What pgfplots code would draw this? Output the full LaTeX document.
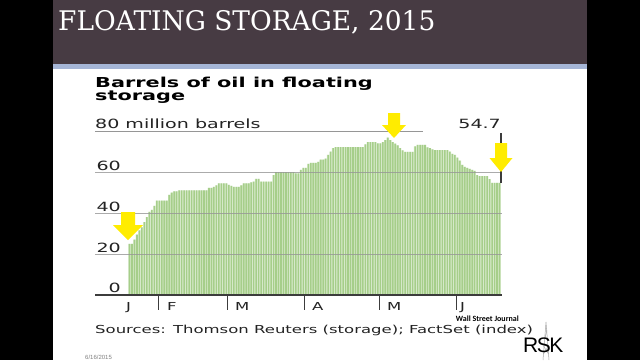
\documentclass[border=0pt]{standalone}
\usepackage{pgfplots}
\pgfplotsset{compat=1.18}
\usepackage{pgfplotstable}
\usepackage{fontspec}
\setmainfont{DejaVu Sans}
\newfontfamily\cf{DejaVu Sans}[FakeStretch=1.5]
\newfontfamily\cfb{DejaVu Sans Bold}[FakeStretch=1.52]
\newfontfamily\tf{DejaVu Serif}[FakeStretch=0.98]
\newfontfamily\wsj{Carlito}
\newfontfamily\rsk{Liberation Sans}
\definecolor{titlecol}{RGB}{71,59,67}
\definecolor{bluestrip}{RGB}{165,181,214}
\definecolor{barfill}{RGB}{166,206,138}
\definecolor{gapc}{RGB}{222,238,212}
\definecolor{gridc}{RGB}{150,150,150}
\definecolor{basec}{RGB}{60,60,60}
\definecolor{txt}{RGB}{35,35,35}
\definecolor{yel}{RGB}{255,236,0}

\pgfplotstableread{
d v
20 25.0
21 25.0
22 27.0
23 29.5
24 31.5
25 33.0
26 35.5
27 38.0
28 40.5
29 41.5
30 43.5
31 46.0
32 46.0
33 46.0
34 46.0
35 46.0
36 48.8
37 50.0
38 50.5
39 50.5
40 51.0
41 51.0
42 51.0
43 51.0
44 51.0
45 51.0
46 51.0
47 51.0
48 51.0
49 51.0
50 51.0
51 51.0
52 52.2
53 52.2
54 52.7
55 53.5
56 54.5
57 54.5
58 54.5
59 54.5
60 53.7
61 53.2
62 52.7
63 52.7
64 52.7
65 53.5
66 54.5
67 54.5
68 54.5
69 55.0
70 55.3
71 56.6
72 56.6
73 55.3
74 55.3
75 55.3
76 55.3
77 55.3
78 58.5
79 60.0
80 60.0
81 60.0
82 60.0
83 60.0
84 60.0
85 60.0
86 60.0
87 59.3
88 59.3
89 61.0
90 62.0
91 62.0
92 64.0
93 64.5
94 64.5
95 64.5
96 65.0
97 66.0
98 66.0
99 66.5
100 68.3
101 70.0
102 71.7
103 72.2
104 72.2
105 72.2
106 72.2
107 72.2
108 72.2
109 72.2
110 72.2
111 72.2
112 72.2
113 72.2
114 72.2
115 73.5
116 74.6
117 74.6
118 74.6
119 74.6
120 74.0
121 74.0
122 74.6
123 75.5
124 76.8
125 75.5
126 74.6
127 73.8
128 73.0
129 71.7
130 70.5
131 69.8
132 69.8
133 69.8
134 69.8
135 72.5
136 73.2
137 73.2
138 73.2
139 73.2
140 72.0
141 71.7
142 71.0
143 70.7
144 70.7
145 70.7
146 70.7
147 70.7
148 70.7
149 70.0
150 68.8
151 68.3
152 67.0
153 65.5
154 63.5
155 62.5
156 62.0
157 61.5
158 61.0
159 60.5
160 58.5
161 58.0
162 58.0
163 58.0
164 58.0
165 56.5
166 54.7
167 54.7
168 54.7
169 54.7
}\oil

\begin{document}
\begin{tikzpicture}
\useasboundingbox (0pt,0pt) rectangle (640pt,360pt);
\clip (0pt,0pt) rectangle (640pt,360pt);
\begin{scope}[x=1pt,y=1pt]
% slide background
\fill[black] (0,0) rectangle (640,360);
\fill[white] (53,0) rectangle (587,292);
\fill[bluestrip] (53,291) rectangle (587,296);
\fill[titlecol] (53,296) rectangle (587,360);
\node[anchor=base west, inner sep=0, text=white, font=\tf\fontsize{27}{30}\selectfont] at (58,330) {FLOATING STORAGE, 2015};
\end{scope}

\begin{axis}[at={(95pt,65pt)}, anchor=south west, scale only axis,
  width=407pt, height=164pt, xmin=6.1, xmax=170, ymin=0, ymax=80,
  axis lines=none, clip=false]
\addplot[ybar, bar width=1.0, fill=gapc, draw=none, forget plot] table[x=d,y=v]{\oil};
\addplot[ybar, bar width=0.64, fill=barfill, draw=none] table[x=d,y=v]{\oil};
\draw[gridc, line width=0.8pt, opacity=0.8] (axis cs:6.1,20) -- (axis cs:170,20);
\draw[gridc, line width=0.8pt, opacity=0.8] (axis cs:6.1,40) -- (axis cs:170,40);
\draw[gridc, line width=0.8pt, opacity=0.8] (axis cs:6.1,60) -- (axis cs:170,60);
\draw[gridc, line width=0.8pt] (axis cs:6.1,80) -- (axis cs:138.2,80);
\draw[basec, line width=1.3pt] (axis cs:6.1,0) -- (axis cs:170,0);
\draw[basec, line width=1.1pt] (axis cs:31.5,0) -- ++(0pt,-15pt);
\draw[basec, line width=1.1pt] (axis cs:59.5,0) -- ++(0pt,-15pt);
\draw[basec, line width=1.1pt] (axis cs:90.5,0) -- ++(0pt,-15pt);
\draw[basec, line width=1.1pt] (axis cs:120.5,0) -- ++(0pt,-15pt);
\draw[basec, line width=1.1pt] (axis cs:151.5,0) -- ++(0pt,-15pt);
\draw[basec, line width=1.4pt] (axis cs:169.6,54.7) -- (axis cs:169.6,79);
\end{axis}

\begin{scope}[x=1pt,y=1pt]
% y labels
\begin{scope}[every node/.style={inner sep=0, text=txt, font=\cf\fontsize{12.7}{13}\selectfont}]
\node[anchor=base east] at (121,68) {0};
\node[anchor=base east] at (121,108) {20};
\node[anchor=base east] at (121,149) {40};
\node[anchor=base east] at (121,190) {60};
\node[anchor=base west] at (95,232) {80 million barrels};
\node[anchor=base east] at (501,232) {54.7};
\end{scope}
% month labels
\begin{scope}[every node/.style={inner sep=0, anchor=base west, text=txt, font=\cf\fontsize{11}{12}\selectfont}]
\node at (126,50) {J};
\node at (167,50) {F};
\node at (235,50) {M};
\node at (312,50) {A};
\node at (387,50) {M};
\node at (460,50) {J};
\end{scope}
% heading
\node[anchor=base west, inner sep=0, text=black, font=\cfb\fontsize{13.7}{14}\selectfont] at (95,273) {Barrels of oil in floating};
\node[anchor=base west, inner sep=0, text=black, font=\cfb\fontsize{13.7}{14}\selectfont] at (95,260) {storage};
% sources
\node[anchor=base west, inner sep=0, text=txt, font=\cf\fontsize{11}{12}\selectfont] at (95,27) {Sources: Thomson Reuters (storage); FactSet (index)};
\node[anchor=base east, inner sep=0, text=black, font=\wsj\bfseries\fontsize{8}{9}\selectfont] at (519,39) {Wall Street Journal};
% logo tower (faint)
\draw[gray!70, line width=0.5pt] (543,0) -- (546,38) -- (549,0);
\draw[gray!70, line width=0.5pt] (543.5,6) -- (548.5,14) (548.5,6) -- (543.5,14) (545,22) -- (547,30);
\node[anchor=base west, inner sep=0, text=black, font=\rsk\fontsize{21}{22}\selectfont] at (523,8) {R\kern-1.5pt S\kern-1.5pt K};
\node[anchor=base west, inner sep=0, text=gray, font=\rsk\fontsize{6}{7}\selectfont] at (85,0.5) {6/16/2015};
% arrows
\fill[yel] (121,148) -- (135,148) -- (135,135) -- (143,135) -- (128,120) -- (113,135) -- (121,135) -- cycle;
\fill[yel] (388,247) -- (400,247) -- (400,235) -- (406,235) -- (394,222) -- (382,235) -- (388,235) -- cycle;
\fill[yel] (495,217) -- (507,217) -- (507,202) -- (512.5,202) -- (501,188) -- (489.5,202) -- (495,202) -- cycle;
\end{scope}
\end{tikzpicture}
\end{document}
